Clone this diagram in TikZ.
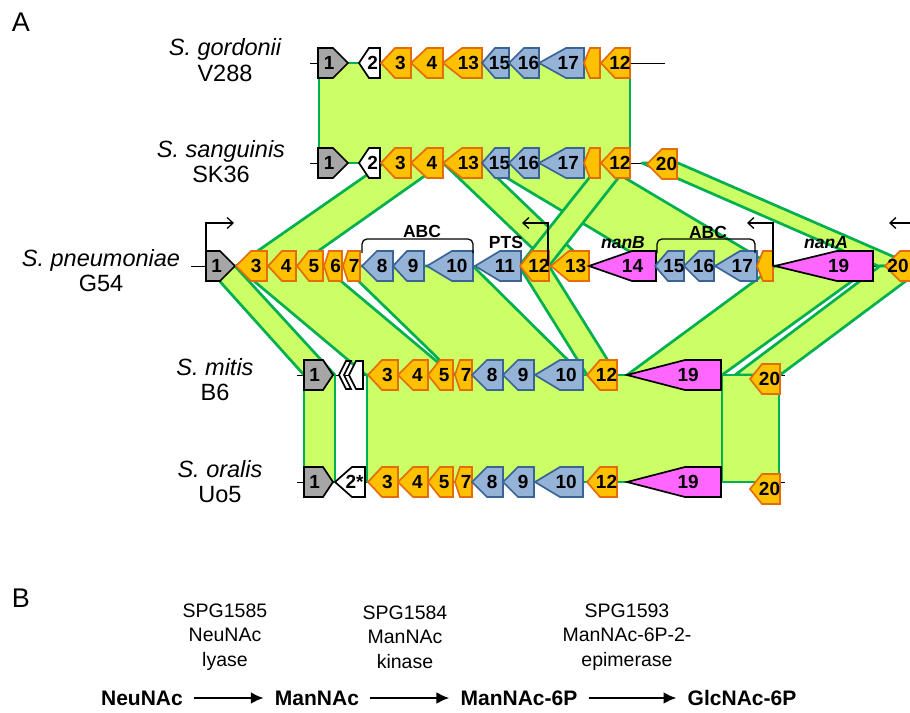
\documentclass[tikz,border=0pt]{standalone}
\usepackage{fontspec}
\setmainfont{Liberation Sans}
\usetikzlibrary{arrows.meta}
\definecolor{bandfill}{HTML}{CCFF66}
\definecolor{bandline}{HTML}{00B050}
\definecolor{orgfill}{HTML}{FFC000}
\definecolor{orgline}{HTML}{E46C0A}
\definecolor{blufill}{HTML}{95B3D7}
\definecolor{bluline}{HTML}{3A6496}
\definecolor{pnkfill}{HTML}{FF66FF}
\definecolor{gryfill}{HTML}{A6A6A6}
\tikzset{
  bandsty/.style={fill=bandfill, draw=bandline, line width=2.7pt, line join=round},
  og/.style={fill=orgfill, draw=orgline, line width=1.7pt},
  bg/.style={fill=blufill, draw=bluline, line width=1.7pt},
  pg/.style={fill=pnkfill, draw=black, line width=1.7pt},
  gg/.style={fill=gryfill, draw=black, line width=1.7pt},
  wg/.style={fill=white, draw=black, line width=1.7pt},
  gl/.style={font=\fontsize{19}{19}\selectfont\bfseries, inner sep=0pt},
  chrom/.style={line width=0.9pt, draw=black},
  sp/.style={font=\fontsize{23.5}{25.5}\selectfont, align=center, inner sep=0pt},
  prom/.style={line width=1.3pt, -{Straight Barb[length=6pt,width=11pt]}},
  brk/.style={line width=1.3pt, rounded corners=5pt},
  tag/.style={font=\fontsize{17.5}{18}\selectfont\bfseries, inner sep=0pt},
  enz/.style={font=\fontsize{19.5}{24.5}\selectfont, align=center, inner sep=0pt},
  met/.style={font=\fontsize{21}{21}\selectfont\bfseries, inner sep=0pt, text height=15pt, text depth=0pt},
  rxn/.style={line width=2.6pt, -{Latex[length=13pt,width=12pt]}, shorten <=11pt, shorten >=11pt},
  panel/.style={font=\fontsize{27}{27}\selectfont, inner sep=0pt}
}
% left-pointing gene: name, x1 (tip), x2 (right), tip length, y, style, label
\newcommand{\geneL}[7]{%
  \draw[#6] (#2,#5) -- ({#2+#4},{#5-15}) -- (#3,{#5-15}) -- (#3,{#5+15}) -- ({#2+#4},{#5+15}) -- cycle;
  \node[gl] (#1) at ({#2+0.65*(#3-#2)},#5) {#7};}
% right-pointing gene: name, x1 (left), x2 (tip), tip length, y, style, label
\newcommand{\geneR}[7]{%
  \draw[#6] (#2,{#5-15}) -- ({#3-#4},{#5-15}) -- (#3,#5) -- ({#3-#4},{#5+15}) -- (#2,{#5+15}) -- cycle;
  \node[gl] (#1) at ({#2+0.37*(#3-#2)},#5) {#7};}
% unlabeled small left-pointing gene
\newcommand{\geneN}[5]{%
  \draw[#5] (#1,#4) -- ({#1+#3},{#4-15}) -- (#2,{#4-15}) -- (#2,{#4+15}) -- ({#1+#3},{#4+15}) -- cycle;}
% synteny band: top x1, top x2, bottom x1, bottom x2, top y, bottom y
\newcommand{\syn}[6]{%
  \draw[bandsty] (#1,#5) -- (#2,#5) -- (#4,#6) -- (#3,#6) -- cycle;}
\begin{document}
\begin{tikzpicture}[x=1pt,y=-1pt]
\useasboundingbox (0,0) rectangle (910,712);

% panel letters
\node[panel] (pA) at (21,22) {A};
\node[panel] (pB) at (21,598) {B};

% species labels
\node[sp] (s1) at (225,60) {\itshape S. gordonii\\V288};
\node[sp] (s2) at (221,161.5) {\itshape S. sanguinis\\SK36};
\node[sp] (s3) at (101,270.5) {\itshape S. pneumoniae\\G54};
\node[sp] (s4) at (215,379.5) {\itshape S. mitis\\B6};
\node[sp] (s5) at (220,481.5) {\itshape S. oralis\\Uo5};

% chromosome lines
\coordinate (c1a) at (310,63); \coordinate (c1b) at (665,63);
\coordinate (c2a) at (310,163); \coordinate (c2b) at (648,163);
\coordinate (c3a) at (191,266); \coordinate (c3b) at (912,266);
\coordinate (c4a) at (297,375); \coordinate (c4b) at (785,375);
\coordinate (c5a) at (297,482); \coordinate (c5b) at (785,482);
\draw[chrom] (c1a) -- (c1b);
\draw[chrom] (c2a) -- (c2b);
\draw[chrom] (c3a) -- (c3b);
\draw[chrom] (c4a) -- (c4b);
\draw[chrom] (c5a) -- (c5b);

% synteny bands V288 - SK36
\syn{319}{630}{319}{630}{63}{163}
% SK36 - G54
\syn{384}{443}{236}{297}{163}{266}
\syn{482}{600}{654}{773}{163}{266}
\syn{443}{482}{551}{589}{163}{266}
\syn{642}{678}{878}{915}{163}{266}
\syn{601}{630}{519}{549}{163}{266}
% G54 - B6
\syn{206}{235}{304}{335}{266}{375}
\syn{236}{323}{366}{453}{266}{375}
\syn{343}{473}{455}{583}{266}{375}
\syn{519}{549}{587}{617}{266}{375}
\syn{880}{926}{735}{780}{266}{375}
\syn{775}{873}{627}{722}{266}{375}
% B6 - Uo5
\syn{304}{335}{304}{335}{375}{482}
\syn{367}{722}{367}{722}{375}{482}
\syn{722}{779}{722}{779}{375}{482}

% ---- S. gordonii V288 ----
\geneR{a1}{318}{348}{15}{63}{gg}{1}
\geneL{a2}{359}{380}{10}{63}{wg}{2}
\geneL{a3}{381}{411}{14}{63}{og}{3}
\geneL{a4}{411}{443}{16}{63}{og}{4}
\geneL{a13}{443}{482}{19}{63}{og}{13}
\geneL{a15}{482}{509}{13}{63}{bg}{15}
\geneL{a16}{509}{539}{15}{63}{bg}{16}
\geneL{a17}{539}{584}{27}{63}{bg}{17}
\geneN{584}{600}{6}{63}{og}
\geneL{a12}{601}{630}{14}{63}{og}{12}

% ---- S. sanguinis SK36 ----
\geneR{b1}{318}{348}{15}{163}{gg}{1}
\geneL{b2}{359}{380}{10}{163}{wg}{2}
\geneL{b3}{381}{411}{14}{163}{og}{3}
\geneL{b4}{411}{443}{16}{163}{og}{4}
\geneL{b13}{443}{482}{19}{163}{og}{13}
\geneL{b15}{482}{509}{13}{163}{bg}{15}
\geneL{b16}{509}{539}{15}{163}{bg}{16}
\geneL{b17}{539}{584}{27}{163}{bg}{17}
\geneN{584}{600}{6}{163}{og}
\geneL{b12}{601}{630}{14}{163}{og}{12}
\geneL{b20}{647}{677}{15}{164}{og}{20}

% ---- S. pneumoniae G54 ----
\geneR{c1}{206}{235}{15}{266}{gg}{1}
\geneL{c3}{236}{267}{15}{266}{og}{3}
\geneL{c4}{268}{296}{14}{266}{og}{4}
\geneL{c5}{297}{323}{12}{266}{og}{5}
\geneL{c6}{324}{342}{5}{266}{og}{6}
\geneL{c7}{343}{360}{5}{266}{og}{7}
\geneL{c8}{362}{393}{15}{266}{bg}{8}
\geneL{c9}{393}{424}{14}{266}{bg}{9}
\geneL{c10}{427}{473}{25}{266}{bg}{10}
\geneL{c11}{475}{521}{25}{266}{bg}{11}
\geneL{c12}{520}{549}{12}{266}{og}{12}
\geneL{c13}{551}{589}{18}{266}{og}{13}
\geneL{c14}{589}{656}{43}{266}{pg}{14}
\geneL{c15}{655}{684}{13}{266}{bg}{15}
\geneL{c16}{684}{714}{15}{266}{bg}{16}
\geneL{c17}{715}{757}{25}{266}{bg}{17}
\geneN{757}{773}{6}{266}{og}
\geneL{c19}{775}{873}{62}{266}{pg}{19}
\draw[og] (885,266) -- (900,251) -- (915,251) -- (915,281) -- (900,281) -- cycle;
\node[gl] (c20) at (898,266) {20};

% ---- S. mitis B6 ----
\geneR{d1}{304}{333}{10}{375}{gg}{1}
\draw[wg] (339,375) -- (346,361) -- (351,361) -- (344,375) -- (351,389) -- (346,389) -- cycle;
\draw[wg] (349,375) -- (356,361) -- (363,361) -- (363,389) -- (356,389) -- cycle;
\geneL{d3}{368}{398}{14}{375}{og}{3}
\geneL{d4}{398}{428}{15}{375}{og}{4}
\geneL{d5}{428}{453}{12}{375}{og}{5}
\geneL{d7}{455}{472}{5}{375}{og}{7}
\geneL{d8}{472}{503}{15}{375}{bg}{8}
\geneL{d9}{503}{534}{15}{375}{bg}{9}
\geneL{d10}{535}{583}{25}{375}{bg}{10}
\geneL{d12}{587}{617}{13}{375}{og}{12}
\geneL{d19}{627}{721}{58}{375}{pg}{19}
\geneL{d20}{750}{780}{12}{379}{og}{20}

% ---- S. oralis Uo5 ----
\geneR{e1}{304}{333}{10}{482}{gg}{1}
\geneL{e2}{335}{365}{17}{482}{wg}{2*}
\geneL{e3}{368}{398}{14}{482}{og}{3}
\geneL{e4}{398}{428}{15}{482}{og}{4}
\geneL{e5}{428}{453}{12}{482}{og}{5}
\geneL{e7}{455}{472}{5}{482}{og}{7}
\geneL{e8}{472}{503}{15}{482}{bg}{8}
\geneL{e9}{503}{534}{15}{482}{bg}{9}
\geneL{e10}{535}{583}{25}{482}{bg}{10}
\geneL{e12}{587}{617}{13}{482}{og}{12}
\geneL{e19}{627}{721}{58}{482}{pg}{19}
\geneL{e20}{750}{780}{12}{489}{og}{20}

% promoters
\coordinate (pr1a) at (206,252); \coordinate (pr1b) at (234,223);
\draw[prom] (pr1a) |- (pr1b);
\coordinate (pr2a) at (548,266); \coordinate (pr2b) at (522,223);
\draw[prom] (pr2a) |- (pr2b);
\coordinate (pr3a) at (773,266); \coordinate (pr3b) at (747,223);
\draw[prom] (pr3a) |- (pr3b);
\coordinate (pr4a) at (914,223); \coordinate (pr4b) at (889,223);
\draw[prom] (pr4a) -- (pr4b);
\coordinate (pr3c) at (775,266);
\draw[line width=1.3pt] (pr3a) -- (pr3c);

% brackets and tags
\draw[brk] (362,253) -- (362,239) -- (473,239) -- (473,253);
\draw[brk] (657,253) -- (657,239) -- (755,239) -- (755,253);
\node[tag] (t1) at (422,231) {ABC};
\node[tag] (t2) at (506,242) {PTS};
\node[tag] (t3) at (708,232) {ABC};
\node[tag] (t4) at (623,243) {\itshape nanB};
\node[tag] (t5) at (826,243) {\itshape nanA};

% ---- panel B ----
\node[enz] (z1) at (225,637) {SPG1585\\NeuNAc\\lyase};
\node[enz] (z2) at (405,637) {SPG1584\\ManNAc\\kinase};
\node[enz] (z3) at (627,637) {SPG1593\\ManNAc-6P-2-\\epimerase};
\node[met] (m1) at (142,698) {NeuNAc};
\node[met] (m2) at (317,698) {ManNAc};
\node[met] (m3) at (519,698) {ManNAc-6P};
\node[met] (m4) at (742,698) {GlcNAc-6P};
\draw[rxn] (m1) -- (m2);
\draw[rxn] (m2) -- (m3);
\draw[rxn] (m3) -- (m4);
\end{tikzpicture}
\end{document}
